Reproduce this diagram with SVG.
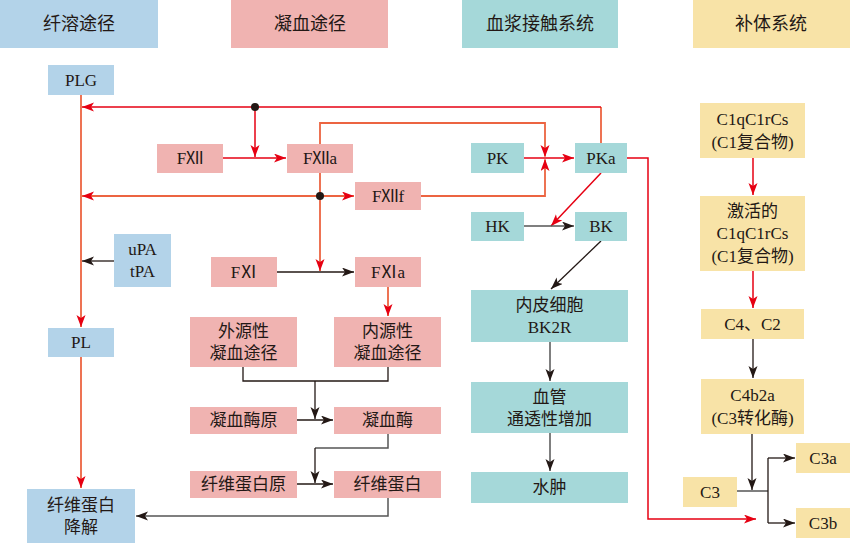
<svg xmlns="http://www.w3.org/2000/svg" width="850" height="543" viewBox="0 0 850 543">
<defs>
<style>
.b{fill:#b3d3e9}.p{fill:#f0b3b1}.t{fill:#a5d8d9}.y{fill:#f8e3a7}
text{font-family:"Liberation Serif","Noto Sans CJK SC",serif;font-size:17px;fill:#231815;text-anchor:middle;dominant-baseline:central}
.h{font-size:18px}
.r{stroke:#e60012;stroke-width:1.5;fill:none}
.o{stroke:#ec6441;stroke-width:1.8;fill:none}
.k{stroke:#231815;stroke-width:1.3;fill:none}
.g{stroke:#555;stroke-width:1.5;fill:none}
.ar{marker-end:url(#mr)}.ak{marker-end:url(#mk)}
</style>
<marker id="mr" markerUnits="userSpaceOnUse" markerWidth="13" markerHeight="10" refX="12" refY="4.5" orient="auto"><path d="M0 0 L12 4.5 L0 9 L3 4.5 z" fill="#e60012"/></marker>
<marker id="mk" markerUnits="userSpaceOnUse" markerWidth="13" markerHeight="10" refX="12" refY="4.5" orient="auto"><path d="M0 0 L12 4.5 L0 9 L3 4.5 z" fill="#231815"/></marker>
</defs>
<g id="headers">
<rect class="b" x="0" y="0" width="158" height="48"/><text class="h" x="79" y="24">纤溶途径</text>
<rect class="p" x="231" y="0" width="157" height="48"/><text class="h" x="310" y="24">凝血途径</text>
<rect class="t" x="462" y="0" width="156" height="48"/><text class="h" x="540" y="24">血浆接触系统</text>
<rect class="y" x="693" y="0" width="157" height="48"/><text class="h" x="771" y="24">补体系统</text>
</g>
<g id="connectors">
<path class="o" d="M81 95 V327"/><path class="ar" d="M81 320 V327" stroke="#ec6441" stroke-width="1.8"/>
<path class="o" d="M601 143 V107"/>
<path class="r ar" d="M601 107 H82"/>
<path class="r ar" d="M255 107 V157"/>
<path class="r ar" d="M223 158 H286"/>
<path class="o" d="M320 144 V123 H545 V156"/><path class="ar" d="M545 150 V157" stroke="#ec6441"/>
<path class="o" d="M320 173 V271"/><path class="ar" d="M320 265 V271" stroke="#ec6441"/>
<path class="o" d="M320 196 H82"/><path class="ar" d="M90 196 H82" stroke="#ec6441"/>
<path class="o" d="M320 196 H354"/><path class="ar" d="M345 196 H354" stroke="#ec6441"/>
<path class="o" d="M421 196 H545 V160"/><path class="ar" d="M545 166 V159" stroke="#ec6441"/>
<path class="r ar" d="M524 158 H574"/>
<path class="r ar" d="M627 158 H648 V519 H756"/>
<path class="r ar" d="M601 173 L551 226"/>
<path class="g ak" d="M524 226 H574"/>
<path class="k ak" d="M601 241 L551 289"/>
<path class="g ak" d="M550 342 V381"/>
<path class="g ak" d="M550 433 V471"/>
<path class="k ak" d="M114 261 H82"/>
<path class="o" d="M81 357 V488"/><path class="ar" d="M81 480 V488" stroke="#ec6441"/>
<path class="k ak" d="M277 272 H354"/>
<path class="o" d="M388 287 V316"/><path class="ar" d="M388 308 V316" stroke="#ec6441"/>
<path class="k" d="M243 367 V381 H388 V367"/>
<path class="k ak" d="M315 381 V419"/>
<path class="k ak" d="M297 420 H333"/>
<path class="g" d="M388 434 V448 H315"/><path class="k ak" d="M315 448 V483"/>
<path class="k ak" d="M297 484 H333"/>
<path class="g ak" d="M388 498 V516 H136"/>
<path class="r ar" d="M753 158 V195"/>
<path class="r ar" d="M753 271 V308"/>
<path class="k ak" d="M753 339 V378"/>
<path class="k ak" d="M752 434 V490"/>
<path class="g" d="M737 491 H768"/>
<path class="k" d="M768 458 V523"/>
<path class="k ak" d="M768 458 H795"/>
<path class="k ak" d="M768 523 H795"/>
<circle cx="255" cy="107" r="4" fill="#231815"/>
<circle cx="320" cy="196" r="4" fill="#231815"/>
</g>
<g id="PLG"><rect class="b" x="48" y="65" width="66" height="30"/><text x="81" y="80">PLG</text></g>
<g id="uPA"><rect class="b" x="114" y="234" width="57" height="53"/><text x="142.5" y="249">uPA</text><text x="142.5" y="271">tPA</text></g>
<g id="PL"><rect class="b" x="48" y="328" width="66" height="29"/><text x="81" y="342.5">PL</text></g>
<g id="FDP"><rect class="b" x="27" y="489" width="108" height="54"/><text x="81" y="505">纤维蛋白</text><text x="81" y="527">降解</text></g>
<g id="FXII"><rect class="p" x="157" y="144" width="66" height="29"/><text x="190" y="158.5">FⅫ</text></g>
<g id="FXIIa"><rect class="p" x="287" y="144" width="66" height="29"/><text x="320" y="158.5">FⅫa</text></g>
<g id="FXIIf"><rect class="p" x="355" y="182" width="66" height="28"/><text x="388" y="196">FⅫf</text></g>
<g id="FXI"><rect class="p" x="211" y="257" width="66" height="30"/><text x="244" y="272">FⅪ</text></g>
<g id="FXIa"><rect class="p" x="355" y="257" width="66" height="30"/><text x="388" y="272">FⅪa</text></g>
<g id="ext"><rect class="p" x="190" y="317" width="107" height="50"/><text x="243.5" y="331">外源性</text><text x="243.5" y="353">凝血途径</text></g>
<g id="int"><rect class="p" x="334" y="317" width="107" height="50"/><text x="387.5" y="331">内源性</text><text x="387.5" y="353">凝血途径</text></g>
<g id="prothrombin"><rect class="p" x="190" y="407" width="107" height="27"/><text x="243.5" y="420.5">凝血酶原</text></g>
<g id="thrombin"><rect class="p" x="334" y="407" width="107" height="27"/><text x="387.5" y="420.5">凝血酶</text></g>
<g id="fibrinogen"><rect class="p" x="190" y="471" width="107" height="27"/><text x="243.5" y="484.5">纤维蛋白原</text></g>
<g id="fibrin"><rect class="p" x="334" y="471" width="107" height="27"/><text x="387.5" y="484.5">纤维蛋白</text></g>
<g id="PK"><rect class="t" x="471" y="143" width="53" height="30"/><text x="497.5" y="158">PK</text></g>
<g id="PKa"><rect class="t" x="575" y="143" width="52" height="30"/><text x="601" y="158">PKa</text></g>
<g id="HK"><rect class="t" x="471" y="212" width="53" height="29"/><text x="497.5" y="226.5">HK</text></g>
<g id="BK"><rect class="t" x="575" y="212" width="52" height="29"/><text x="601" y="226.5">BK</text></g>
<g id="BK2R"><rect class="t" x="471" y="290" width="157" height="52"/><text x="549.5" y="305">内皮细胞</text><text x="549.5" y="327">BK2R</text></g>
<g id="vasc"><rect class="t" x="471" y="382" width="157" height="51"/><text x="549.5" y="397">血管</text><text x="549.5" y="419">通透性增加</text></g>
<g id="edema"><rect class="t" x="471" y="472" width="157" height="31"/><text x="549.5" y="487.5">水肿</text></g>
<g id="C1"><rect class="y" x="700" y="103" width="105" height="55"/><text x="752.5" y="119">C1qC1rCs</text><text x="752.5" y="142">(C1复合物)</text></g>
<g id="C1act"><rect class="y" x="700" y="196" width="105" height="75"/><text x="752.5" y="211">激活的</text><text x="752.5" y="233.5">C1qC1rCs</text><text x="752.5" y="256">(C1复合物)</text></g>
<g id="C4C2"><rect class="y" x="701" y="309" width="103" height="30"/><text x="752.5" y="324">C4、C2</text></g>
<g id="C4b2a"><rect class="y" x="701" y="379" width="103" height="55"/><text x="752.5" y="395">C4b2a</text><text x="752.5" y="418">(C3转化酶)</text></g>
<g id="C3"><rect class="y" x="683" y="477" width="54" height="30"/><text x="710" y="492">C3</text></g>
<g id="C3a"><rect class="y" x="796" y="443" width="54" height="30"/><text x="823" y="458">C3a</text></g>
<g id="C3b"><rect class="y" x="796" y="508" width="54" height="30"/><text x="823" y="523">C3b</text></g>
</svg>
